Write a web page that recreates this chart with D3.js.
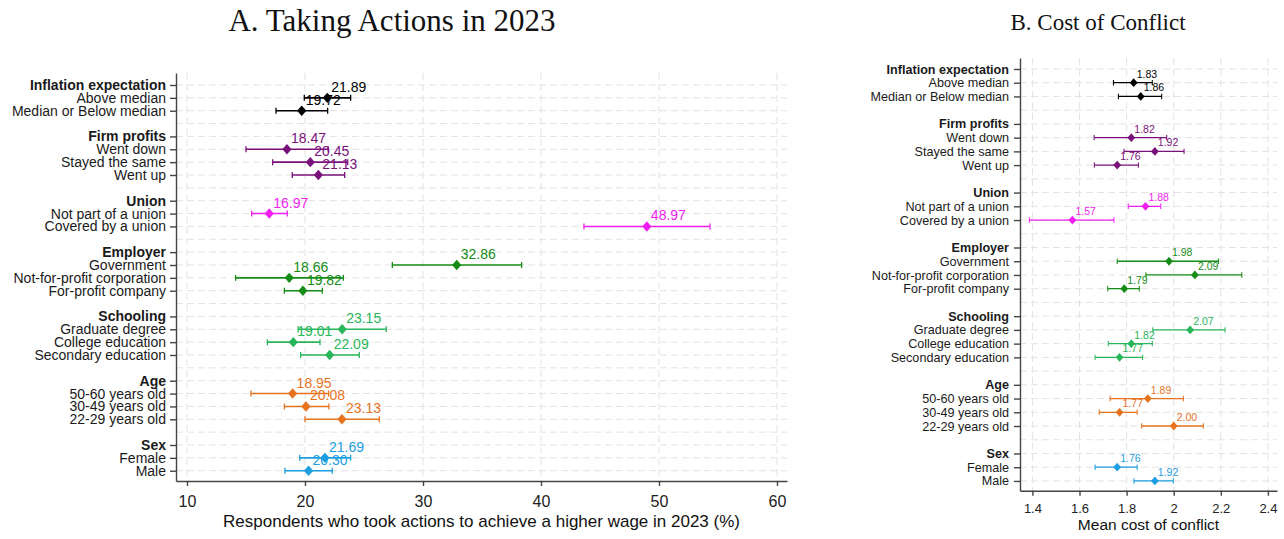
<!DOCTYPE html>
<html lang="en">
<head>
<meta charset="UTF-8">
<title>Taking Actions in 2023 / Cost of Conflict</title>
<script src="https://d3js.org/d3.v7.min.js"></script>
<style>
  body { margin: 0; background: #fff; }
  svg { display: block; background: #fff; font-family: "Liberation Sans", Arial, sans-serif; }
  .title { font-family: "Liberation Serif", "Times New Roman", serif; fill: #111; }
  .grid line { stroke: #e3e3e3; stroke-width: 1; stroke-dasharray: 7,4; }
  .axis path, .axis line { stroke: #444; stroke-width: 1.4; }
  .axis text { fill: #222; }
</style>
</head>
<body>
<svg id="chart" width="1284" height="539"></svg>
<script>
// ---- data ----
const groupNames = ["Inflation expectation", "Firm profits", "Union", "Employer", "Schooling", "Age", "Sex"];
const itemLabels = [
  ["Above median", "Median or Below median"],
  ["Went down", "Stayed the same", "Went up"],
  ["Not part of a union", "Covered by a union"],
  ["Government", "Not-for-profit corporation", "For-profit company"],
  ["Graduate degree", "College education", "Secondary education"],
  ["50-60 years old", "30-49 years old", "22-29 years old"],
  ["Female", "Male"]
];
const groupColors = ["#000000", "#7a107a", "#f01ef0", "#158c15", "#28b65a", "#e8731f", "#1c9ee0"];

// Panel A: share taking actions (%), with 95% CI
const actionMean = [[21.89, 19.72], [18.47, 20.45, 21.13], [16.97, 48.97], [32.86, 18.66, 19.82], [23.15, 19.01, 22.09], [18.95, 20.08, 23.13], [21.69, 20.30]];
const actionLow  = [[19.94, 17.54], [15.00, 17.26, 18.92], [15.48, 43.64], [27.40, 14.12, 18.25], [19.42, 16.81, 19.63], [15.42, 18.25, 20.00], [19.55, 18.30]];
const actionHigh = [[23.87, 21.92], [21.97, 23.62, 23.36], [18.50, 54.32], [38.36, 23.25, 21.47], [26.88, 21.27, 24.60], [22.00, 22.03, 26.30], [23.87, 22.31]];
const actionTicks = [10, 20, 30, 40, 50, 60];

// Panel B: mean cost of conflict, with 95% CI
const costMean = [[1.83, 1.86], [1.82, 1.92, 1.76], [1.88, 1.57], [1.98, 2.09, 1.79], [2.07, 1.82, 1.77], [1.89, 1.77, 2.00], [1.76, 1.92]];
const costLow  = [[1.744, 1.765], [1.662, 1.789, 1.663], [1.807, 1.387], [1.760, 1.882, 1.720], [1.911, 1.722, 1.666], [1.730, 1.684, 1.864], [1.666, 1.831]];
const costHigh = [[1.909, 1.949], [1.970, 2.044, 1.850], [1.945, 1.746], [2.190, 2.289, 1.854], [2.218, 1.909, 1.868], [2.041, 1.845, 2.126], [1.845, 1.998]];
const costTicks = [1.4, 1.6, 1.8, 2, 2.2, 2.4];

// ---- row layout: header, items, blank line between groups ----
const rows = [];
let slot = 0;
groupNames.forEach((g, gi) => {
  rows.push({ slot: slot++, label: g, header: true });
  itemLabels[gi].forEach((lab, i) => rows.push({ slot: slot++, label: lab, header: false, g: gi, i: i }));
  if (gi < groupNames.length - 1) slot++;
});
const lastSlot = slot - 1;
const allSlots = d3.range(0, lastSlot + 1);
const labelOf = new Map(rows.map(r => [r.slot, r]));
const points = rows.filter(r => !r.header);

const svg = d3.select("#chart");

function drawPanel(cfg) {
  const x = d3.scaleLinear().domain(cfg.xDomain).range(cfg.xRange);
  const y = d3.scaleLinear().domain(cfg.yDomain).range(cfg.yRange);
  const g = svg.append("g");

  // gridlines
  const grid = g.append("g").attr("class", "grid");
  grid.selectAll(".h").data(allSlots).join("line")
    .attr("x1", cfg.xRange[0]).attr("x2", cfg.xRange[1])
    .attr("y1", d => y(d)).attr("y2", d => y(d));
  grid.selectAll(".v").data(cfg.ticks).join("line")
    .attr("x1", d => x(d)).attr("x2", d => x(d))
    .attr("y1", cfg.yRange[0]).attr("y2", cfg.yRange[1]);

  // y axis with group headers in bold
  const yAxis = g.append("g").attr("class", "axis")
    .attr("transform", `translate(${cfg.xRange[0]},0)`)
    .call(d3.axisLeft(y).tickValues(rows.map(r => r.slot))
      .tickFormat(d => labelOf.get(d).label)
      .tickSize(6).tickPadding(cfg.yPad).tickSizeOuter(0));
  yAxis.attr("font-family", null).attr("font-size", null);
  yAxis.selectAll("text")
    .style("font-size", cfg.labelSize + "px")
    .style("font-weight", d => labelOf.get(d).header ? "bold" : "normal")
    .style("fill", "#1a1a1a");

  // x axis
  const xAxis = g.append("g").attr("class", "axis")
    .attr("transform", `translate(0,${cfg.yRange[1]})`)
    .call(d3.axisBottom(x).tickValues(cfg.ticks).tickFormat(d3.format("~g"))
      .tickSize(5).tickPadding(cfg.xPad).tickSizeOuter(0));
  xAxis.attr("font-family", null).attr("font-size", null);
  xAxis.selectAll("text").style("font-size", cfg.tickSize + "px");

  g.append("text")
    .attr("x", (cfg.xRange[0] + cfg.xRange[1]) / 2)
    .attr("y", cfg.xTitleY)
    .attr("text-anchor", "middle")
    .style("font-size", cfg.xTitleSize + "px")
    .style("fill", "#111")
    .text(cfg.xTitle);

  g.append("text").attr("class", "title")
    .attr("x", cfg.titleX).attr("y", cfg.titleY)
    .attr("text-anchor", "middle")
    .style("font-size", cfg.titleSize + "px")
    .text(cfg.title);

  // CI lines, caps, markers, labels
  const marks = g.append("g");
  const item = marks.selectAll("g").data(points).join("g")
    .attr("stroke", d => groupColors[d.g])
    .attr("fill", d => groupColors[d.g]);

  item.append("line")
    .attr("x1", d => x(cfg.low[d.g][d.i])).attr("x2", d => x(cfg.high[d.g][d.i]))
    .attr("y1", d => y(d.slot)).attr("y2", d => y(d.slot))
    .attr("stroke-width", cfg.lineW);
  item.selectAll(".cap").data(d => [cfg.low[d.g][d.i], cfg.high[d.g][d.i]].map(v => ({ v, s: d.slot })))
    .join("line")
    .attr("x1", c => x(c.v)).attr("x2", c => x(c.v))
    .attr("y1", c => y(c.s) - cfg.cap).attr("y2", c => y(c.s) + cfg.cap)
    .attr("stroke-width", cfg.lineW * 0.8);
  const w = cfg.mw, h = cfg.mh;
  item.append("path")
    .attr("d", `M0,${-h}L${w},0L0,${h}L${-w},0Z`)
    .attr("stroke", "none")
    .attr("transform", d => `translate(${x(cfg.mean[d.g][d.i])},${y(d.slot)})`);
  item.append("text")
    .attr("x", d => x(cfg.mean[d.g][d.i]) + cfg.lblDx)
    .attr("y", d => y(d.slot) - cfg.lblDy)
    .attr("stroke", "none")
    .style("font-size", cfg.valueSize + "px")
    .text(d => d3.format(".2f")(cfg.mean[d.g][d.i]));
}

drawPanel({
  mean: actionMean, low: actionLow, high: actionHigh, ticks: actionTicks,
  xDomain: [9.068, 60.847], xRange: [176, 787],
  yDomain: [-0.933, 30.8], yRange: [73, 481],
  yPad: 4, xPad: 10, labelSize: 14, tickSize: 16,
  xTitle: "Respondents who took actions to achieve a higher wage in 2023 (%)", xTitleY: 527, xTitleSize: 17,
  title: "A. Taking Actions in 2023", titleX: 392, titleY: 31, titleSize: 31,
  lineW: 1.6, cap: 3, mw: 4.6, mh: 5.2, lblDx: 4, lblDy: 6, valueSize: 14
});

drawPanel({
  mean: costMean, low: costLow, high: costHigh, ticks: costTicks,
  xDomain: [1.3473, 2.4386], xRange: [1020, 1277],
  yDomain: [-0.8, 30.71], yRange: [58, 490.7],
  yPad: 5, xPad: 8, labelSize: 12.6, tickSize: 13,
  xTitle: "Mean cost of conflict", xTitleY: 530, xTitleSize: 15.5,
  title: "B. Cost of Conflict", titleX: 1098, titleY: 30, titleSize: 23,
  lineW: 1.3, cap: 2.7, mw: 3.9, mh: 4.4, lblDx: 3, lblDy: 5, valueSize: 10.5
});
</script>
</body>
</html>
